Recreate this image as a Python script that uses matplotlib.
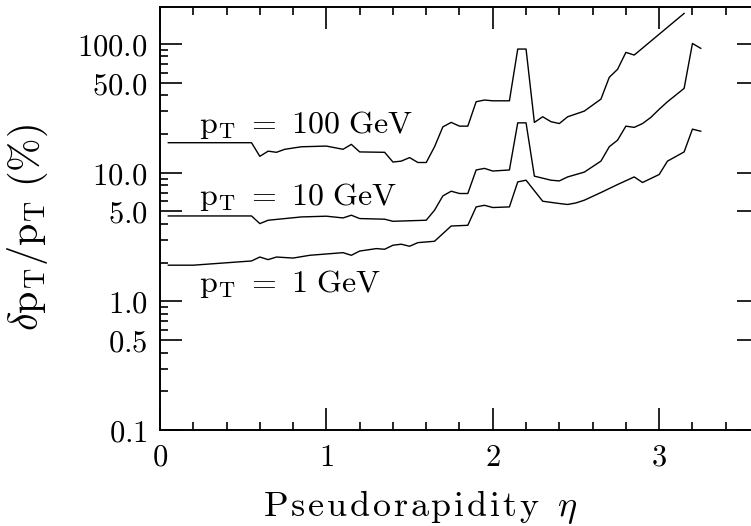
import numpy as np
import matplotlib
matplotlib.use("Agg")
from matplotlib import pyplot as plt

# pseudorapidity grid points and resolution (%) for each pT
eta_100 = [0.05, 0.55, 0.60, 0.65, 0.70, 0.75, 0.85, 1.00, 1.10, 1.15, 1.20, 1.35, 1.40, 1.45,
           1.50, 1.55, 1.60, 1.65, 1.70, 1.75, 1.80, 1.85, 1.90, 1.95, 2.00, 2.10, 2.15, 2.20,
           2.25, 2.30, 2.35, 2.40, 2.45, 2.55, 2.65, 2.70, 2.75, 2.80, 2.85, 3.15]
res_100 = [17.1, 17.1, 13.4, 14.7, 14.4, 15.2, 15.9, 16.1, 15.2, 16.6, 14.5, 14.4, 12.1, 12.3,
           13.1, 12.0, 12.0, 15.9, 22.7, 24.6, 23.0, 23.0, 35.6, 36.7, 36.2, 36.2, 91.4, 91.4,
           24.6, 27.2, 24.9, 24.1, 27.2, 30.1, 37.3, 55.1, 63.6, 86.1, 82.1, 173.0]

eta_10 = [0.05, 0.55, 0.60, 0.65, 0.85, 1.00, 1.10, 1.15, 1.20, 1.35, 1.40, 1.60, 1.65, 1.70,
          1.75, 1.80, 1.85, 1.90, 1.95, 2.00, 2.10, 2.15, 2.20, 2.25, 2.35, 2.40, 2.45, 2.55,
          2.65, 2.70, 2.75, 2.80, 2.85, 2.90, 2.95, 3.00, 3.05, 3.15, 3.20, 3.25]
res_10 = [4.61, 4.61, 4.02, 4.27, 4.53, 4.59, 4.45, 4.67, 4.40, 4.35, 4.19, 4.27, 5.11, 6.6,
          7.18, 6.89, 6.89, 10.5, 10.8, 10.3, 10.5, 24.4, 24.4, 9.40, 8.74, 8.63, 9.27, 10.1,
          12.3, 15.9, 17.9, 23.0, 22.5, 24.1, 26.9, 31.1, 35.6, 45.2, 101.0, 92.6]

eta_1 = [0.05, 0.20, 0.55, 0.60, 0.65, 0.70, 0.80, 0.90, 1.10, 1.15, 1.20, 1.30, 1.35, 1.40,
         1.45, 1.50, 1.55, 1.65, 1.70, 1.75, 1.85, 1.90, 1.95, 2.00, 2.10, 2.15, 2.20, 2.30,
         2.40, 2.45, 2.50, 2.55, 2.65, 2.75, 2.85, 2.90, 3.00, 3.05, 3.15, 3.20, 3.25]
res_1 = [1.91, 1.91, 2.06, 2.21, 2.11, 2.21, 2.17, 2.28, 2.39, 2.28, 2.46, 2.57, 2.54, 2.73,
         2.78, 2.68, 2.86, 2.93, 3.36, 3.85, 3.90, 5.42, 5.58, 5.36, 5.42, 8.48, 8.74, 6.00,
         5.76, 5.66, 5.82, 6.11, 7.01, 8.09, 9.27, 8.39, 9.68, 12.3, 14.5, 21.8, 21.0]

curve_labels = [r'$\mathrm{p_T\ =\ 100\ GeV}$', r'$\mathrm{p_T\ =\ 10\ GeV}$', r'$\mathrm{p_T\ =\ 1\ GeV}$']
label_y = [20.2, 5.59, 1.18]

ytick_vals = [0.1, 0.5, 1.0, 5.0, 10.0, 50.0, 100.0]
ytick_text = ['0.1', '0.5', '1.0', '5.0', '10.0', '50.0', '100.0']
xtick_vals = [0, 1, 2, 3]


def spaced(word, gap=0.09):
    # widen letter spacing a bit, like the original plotting font
    return (r'\hspace{%g}' % gap).join(r'\mathrm{%s}' % c for c in word)


plt.rcParams['mathtext.fontset'] = 'cm'

fig = plt.figure(figsize=(7.51, 5.26), dpi=100)
ax = fig.add_axes([160/751, 96/526, 599/751, 423/526])

for e, r in [(eta_100, res_100), (eta_10, res_10), (eta_1, res_1)]:
    ax.plot(e, r, color='black', lw=1.0)

for lab, yy in zip(curve_labels, label_y):
    ax.text(0.235, yy, lab, fontsize=23, va='baseline', ha='left')

ax.set_yscale('log')
ax.set_yticks(ytick_vals, ['$%s$' % t for t in ytick_text])
minor_y = [m * d for d in [0.1, 1, 10, 100] for m in [2, 3, 4, 6, 7, 8, 9]]
ax.set_yticks(minor_y, minor=True)
ax.set_xticks(xtick_vals, ['$%d$' % v for v in xtick_vals])
ax.set_xticks(np.arange(0, 3.61, 0.2), minor=True)
ax.set_xlim(0, 3.6)
ax.set_ylim(0.1, 194)

ax.tick_params(which='both', direction='in', top=True, right=True, width=1.2, labelsize=22)
ax.tick_params(which='major', length=16)
ax.tick_params(which='minor', length=5.5)
ax.tick_params(axis='y', pad=9)
ax.tick_params(axis='x', pad=9)
for s in ax.spines.values():
    s.set_linewidth(1.4)

ax.set_xlabel('$' + spaced('Pseudorapidity') + r'\ \;\eta$', fontsize=26)
ax.xaxis.set_label_coords(0.434, -0.137)
ax.set_ylabel(r'$\delta\mathrm{p_T/p_T}\ \mathrm{(\%)}$', fontsize=29)
ax.yaxis.set_label_coords(-0.184, 0.479)

fig.savefig('out.png', dpi=100)
